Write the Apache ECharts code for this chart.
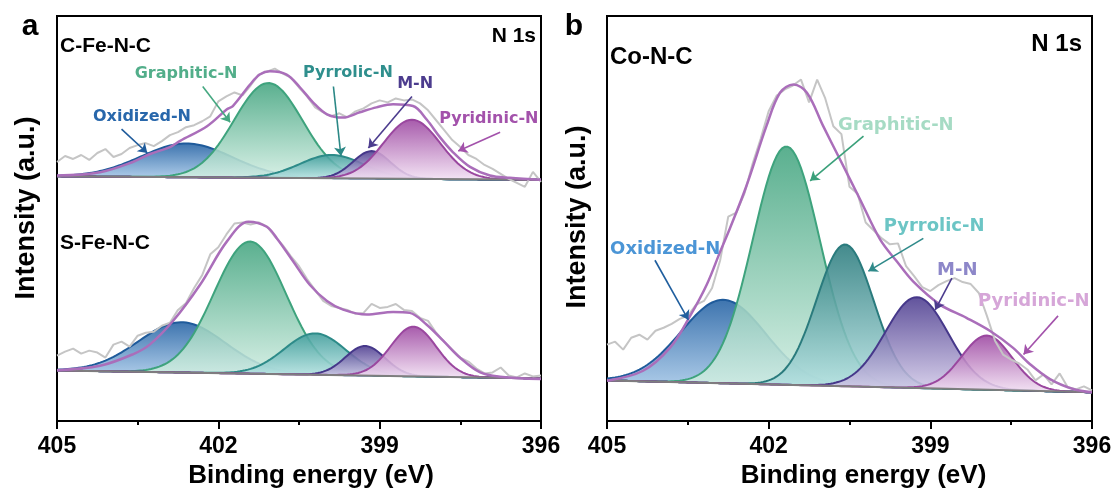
<!DOCTYPE html>
<html>
<head>
<meta charset="utf-8">
<script src="https://cdn.jsdelivr.net/npm/echarts@6/dist/echarts.min.js"></script>
<style>
  html, body { margin: 0; padding: 0; background: #fff; }
  #chart { width: 1118px; height: 494px; }
</style>
</head>
<body>
<div id="chart"></div>
<script>
// ---- Data -----------------------------------------------------------------
// Binding-energy axis (eV), drawn from high to low
const energyTicks = [405, 402, 399, 396];

// Fitted N 1s components
const components = ['Oxidized-N', 'Graphitic-N', 'Pyrrolic-N', 'M-N', 'Pyridinic-N'];

// C-Fe-N-C: Gaussian components (centre eV, height a.u., FWHM eV), linear background
const cfeCentres = [402.59, 401.07, 399.89, 399.15, 398.40];
const cfeHeights = [34, 95.5, 23.5, 27.7, 59.6];
const cfeFwhm = [2.0, 1.5, 1.4, 0.82, 1.24];
const cfeBackground = [244.5, 241]; // at 405 eV and 396 eV

// S-Fe-N-C
const sfeCentres = [402.68, 401.41, 400.20, 399.27, 398.37];
const sfeHeights = [50.6, 133, 41.6, 29.7, 50];
const sfeFwhm = [1.9, 1.58, 1.36, 0.87, 0.99];
const sfeBackground = [49, 41];

// Co-N-C
const coCentres = [402.84, 401.67, 400.58, 399.25, 397.95];
const coHeights = [84, 240, 142.7, 91.5, 54.5];
const coFwhm = [1.85, 1.47, 1.25, 1.38, 1.1];
const coBackground = [39, 27];

// Measured spectra, 0.15 eV steps from 405 eV to 396 eV
const rawStep = 0.15;
const cfeRaw = [259,265,262,266,261,268,272,264,267,273,276,278,275,280,286,289,294,296,300,305,
                320,325,329,326,336,347,350,353,348,344,334,325,314,309,305,308,304,310,313,318,
                321,319,323,321,322,318,311,301,291,281,274,266,262,256,252,247,242,238,234,249,239];
const sfeRaw = [64,68,71,66,69,67,62,75,78,73,84,87,88,94,97,110,117,132,145,166,
                173,186,197,198,196,198,194,184,175,164,154,141,130,119,114,112,110,106,107,116,
                112,113,116,110,109,102,99,87,78,70,62,58,51,46,47,52,44,42,46,43,44];
const coRaw = [75,78,70,82,85,80,89,92,96,101,104,115,119,132,160,204,208,227,257,282,
               310,326,332,336,342,319,342,323,295,287,234,227,198,190,182,176,177,154,144,133,
               129,135,139,142,138,136,127,104,79,65,60,56,50,39,45,35,46,32,30,33,29];

// Fit envelopes
const cfeEnvelopeEnergy = [405.00,404.20,403.59,403.27,402.90,402.71,402.21,401.84,401.73,401.41,401.23,401.04,400.73,400.48,
                           400.24,399.98,399.68,399.37,399.06,398.75,398.38,398.13,397.88,397.64,397.32,396.95,396.58,396.00];
const cfeEnvelope = [245.3,248.7,259,267,274,280.3,295,312,315.3,337,347,350.3,347,334,
                     319,307,303.7,309,314,317,315.3,302,284,269,254,245.3,243,241];
const sfeEnvelopeEnergy = [405.00,404.20,403.59,403.27,402.84,402.34,401.84,401.44,401.10,400.91,400.61,400.30,
                           399.98,399.68,399.24,398.75,398.44,398.13,397.82,397.51,397.13,396.76,396.00];
const sfeEnvelope = [49.3,53.7,65.3,75.3,99,135.3,179,198.7,193.7,182,159,135.3,
                     119,110.3,105.3,108,107,95.3,79,62,47,42.7,40.3];
const coEnvelopeEnergy = [405.00,404.33,403.83,403.46,403.15,402.90,402.72,402.41,402.04,401.79,401.54,401.29,400.99,
                          400.68,400.31,399.93,399.62,399.32,398.82,398.33,397.89,397.47,397.15,396.78,396.35,396.00];
const coEnvelope = [38.7,48.7,72,103.7,135.3,168.7,192,235.3,295.3,328.7,337,328.7,295.3,
                    262,222,180.7,158.7,138.7,115.3,102,88.7,72,55.3,40.3,30.3,27];

// ---- Styling ----------------------------------------------------------------
const FONT = '"Liberation Sans", Arial, Helvetica, sans-serif';
const LABEL_FONT = '"DejaVu Sans", Verdana, sans-serif';

const styleA = {
  'Oxidized-N':  { line: '#1f5b9b', top: '#2462a4', bottom: '#aacbea' },
  'Graphitic-N': { line: '#3ea37d', top: '#44a580', bottom: '#d4efe4' },
  'Pyrrolic-N':  { line: '#2d8b89', top: '#3e9c9a', bottom: '#c0e8e8' },
  'M-N':         { line: '#46388a', top: '#4c3c8f', bottom: '#d5cdea' },
  'Pyridinic-N': { line: '#9a479f', top: '#9c46a1', bottom: '#f2e0f3' }
};
const styleB = Object.assign({}, styleA, {
  'Pyrrolic-N':  { line: '#2a7b7d', top: '#2a7b7d', bottom: '#b8e4e4' }
});

// Label text, colour, label centre, arrow start and arrow tip (data coordinates)
const notesA = [
  { text: 'Oxidized-N',  color: '#2867ab', arrow: '#1f5b9b', at: [403.42, 304], from: [403.80, 292], to: [403.32, 268] },
  { text: 'Graphitic-N', color: '#52ae8a', arrow: '#45a881', at: [402.60, 348], from: [402.29, 335], to: [401.78, 299] },
  { text: 'Pyrrolic-N',  color: '#2f8f8d', arrow: '#2b8886', at: [399.59, 349], from: [399.86, 335], to: [399.72, 265] },
  { text: 'M-N',         color: '#4c3c8e', arrow: '#4c3c8e', at: [398.34, 338], from: [398.40, 325], to: [399.21, 273] },
  { text: 'Pyridinic-N', color: '#a352ab', arrow: '#a352ab', at: [396.97, 302], from: [396.76, 289], to: [397.54, 270] }
];
const notesB = [
  { text: 'Oxidized-N',  color: '#4b95d6', arrow: '#1f5e9e', at: [403.92, 171], from: [404.11, 160], to: [403.49, 100] },
  { text: 'Graphitic-N', color: '#a6dbc4', arrow: '#3aa07a', at: [399.64, 296], from: [400.24, 285], to: [401.23, 240] },
  { text: 'Pyrrolic-N',  color: '#6cc5c5', arrow: '#2f8a8a', at: [398.93, 194], from: [399.13, 182], to: [400.15, 149] },
  { text: 'M-N',         color: '#8d87c9', arrow: '#4c3c8e', at: [398.50, 150], from: [398.60, 142], to: [398.91, 110] },
  { text: 'Pyridinic-N', color: '#d6a6d8', arrow: '#a352ab', at: [397.08, 119], from: [396.63, 104], to: [397.27, 65] }
];

// ---- Helpers ------------------------------------------------------------------
const fitGrid = [];
for (let i = 0; i <= 180; i++) fitGrid.push(+(405 - i * 0.05).toFixed(2));

function backgroundAt(bg, e) { return bg[0] + (bg[1] - bg[0]) * (405 - e) / 9; }
function gaussian(e, c, h, w) { const s = w / 2.3548; return h * Math.exp(-0.5 * ((e - c) / s) ** 2); }

// One fitted component: filled band between the background and background + peak
function peakSeries(axis, points, st) {
  return {
    type: 'custom', xAxisIndex: axis, yAxisIndex: axis, silent: true, clip: true,
    data: points, encode: { x: 0, y: [1, 2] },
    renderItem(params, api) {
      if (params.dataIndex !== 0) return null;
      const upper = points.map(p => api.coord([p[0], p[2]]));
      const lower = points.map(p => api.coord([p[0], p[1]])).reverse();
      return {
        type: 'group',
        children: [
          {
            type: 'polygon', shape: { points: upper.concat(lower) },
            style: {
              fill: new echarts.graphic.LinearGradient(0, 0, 0, 1, [
                { offset: 0, color: st.top }, { offset: 1, color: st.bottom }
              ]),
              opacity: 0.88
            }
          },
          { type: 'polyline', shape: { points: upper }, style: { stroke: st.line, lineWidth: 2, fill: null } }
        ]
      };
    }
  };
}

function spectrumSeries(axis, fit, bg, raw, envE, env, styles, notes, labelSize) {
  const out = [];
  components.forEach((name, k) => {
    const points = fitGrid.map(e => {
      const b = backgroundAt(bg, e);
      return [e, b, b + gaussian(e, fit.c[k], fit.h[k], fit.w[k])];
    });
    out.push(peakSeries(axis, points, styles[name]));
  });
  out.push({
    type: 'line', xAxisIndex: axis, yAxisIndex: axis, silent: true, symbol: 'none',
    data: [[405, bg[0]], [396, bg[1]]],
    lineStyle: { color: '#7e7e7e', width: 2 }
  });
  out.push({
    type: 'line', xAxisIndex: axis, yAxisIndex: axis, silent: true, symbol: 'none',
    data: raw.map((v, i) => [+(405 - i * rawStep).toFixed(2), v]),
    lineStyle: { color: '#c5c5c5', width: 2 }
  });
  out.push({
    type: 'line', xAxisIndex: axis, yAxisIndex: axis, silent: true, symbol: 'none', smooth: 0.35,
    data: envE.map((e, i) => [e, env[i]]),
    lineStyle: { color: '#aa6eba', width: 2.5 },
    markLine: {
      silent: true, animation: false, symbol: ['none', 'arrow'], symbolSize: 9,
      label: { show: false },
      data: notes.map(n => [
        { coord: n.from, lineStyle: { color: n.arrow, width: 1.6, type: 'solid' }, itemStyle: { color: n.arrow } },
        { coord: n.to }
      ])
    },
    markPoint: {
      silent: true, animation: false,
      data: notes.map(n => ({
        coord: n.at, symbol: 'rect', symbolSize: 1, itemStyle: { color: 'rgba(0,0,0,0)' },
        label: {
          show: true, position: 'inside', formatter: n.text, color: n.color,
          fontSize: labelSize, fontWeight: 'bold', fontFamily: LABEL_FONT
        }
      }))
    }
  });
  return out;
}

function energyAxis(gridIndex, nameShift) {
  return {
    type: 'value', gridIndex, inverse: true, min: 396, max: 405, interval: 3,
    name: 'Binding energy (eV)', nameLocation: 'middle', nameGap: 34,
    nameTextStyle: { fontSize: 26, fontWeight: 'bold', color: '#000', fontFamily: FONT, padding: [0, 0, 0, nameShift] },
    axisLine: { show: true, onZero: false, lineStyle: { color: '#000', width: 2 } },
    axisTick: { show: true, inside: false, length: 8, lineStyle: { color: '#000', width: 2 } },
    minorTick: { show: true, splitNumber: 2, length: 4, lineStyle: { color: '#000', width: 2 } },
    axisLabel: {
      fontSize: 23, fontWeight: 'bold', color: '#000', fontFamily: FONT, margin: 14,
      formatter: v => energyTicks.includes(v) ? String(v) : ''
    },
    splitLine: { show: false }
  };
}
function intensityAxis(gridIndex) {
  return {
    type: 'value', gridIndex, min: -2, max: 406,
    axisLine: { show: false }, axisTick: { show: false }, axisLabel: { show: false }, splitLine: { show: false }
  };
}

function text(x, y, str, size, align, extra) {
  return Object.assign({
    type: 'text', x, y, silent: true,
    style: { text: str, fill: '#000', font: `bold ${size}px ${FONT}`, align, verticalAlign: 'middle' }
  }, extra || {});
}

const chart = echarts.init(document.getElementById('chart'), null, { renderer: 'canvas' });
chart.setOption({
  animation: false,
  backgroundColor: '#fff',
  grid: [
    { left: 57, top: 16, width: 484, height: 407, show: true, borderColor: '#000', borderWidth: 2, backgroundColor: 'transparent' },
    { left: 607, top: 16, width: 485, height: 407, show: true, borderColor: '#000', borderWidth: 2, backgroundColor: 'transparent' }
  ],
  xAxis: [energyAxis(0, 24), energyAxis(1, 28)],
  yAxis: [intensityAxis(0), intensityAxis(1)],
  series: [
    ...spectrumSeries(0, { c: cfeCentres, h: cfeHeights, w: cfeFwhm }, cfeBackground, cfeRaw,
                      cfeEnvelopeEnergy, cfeEnvelope, styleA, notesA, 16),
    ...spectrumSeries(0, { c: sfeCentres, h: sfeHeights, w: sfeFwhm }, sfeBackground, sfeRaw,
                      sfeEnvelopeEnergy, sfeEnvelope, styleA, [], 16),
    ...spectrumSeries(1, { c: coCentres, h: coHeights, w: coFwhm }, coBackground, coRaw,
                      coEnvelopeEnergy, coEnvelope, styleB, notesB, 18)
  ],
  graphic: [
    text(30, 27, 'a', 30, 'center'),
    text(574, 27, 'b', 30, 'center'),
    text(60, 46, 'C-Fe-N-C', 21, 'left'),
    text(536, 36, 'N 1s', 21, 'right'),
    text(60, 243, 'S-Fe-N-C', 21, 'left'),
    text(610, 57, 'Co-N-C', 24, 'left'),
    text(1082, 44, 'N 1s', 24, 'right'),
    text(27, 208, 'Intensity (a.u.)', 27, 'center', { rotation: Math.PI / 2 }),
    text(578, 217, 'Intensity (a.u.)', 27, 'center', { rotation: Math.PI / 2 })
  ]
});
</script>
</body>
</html>
